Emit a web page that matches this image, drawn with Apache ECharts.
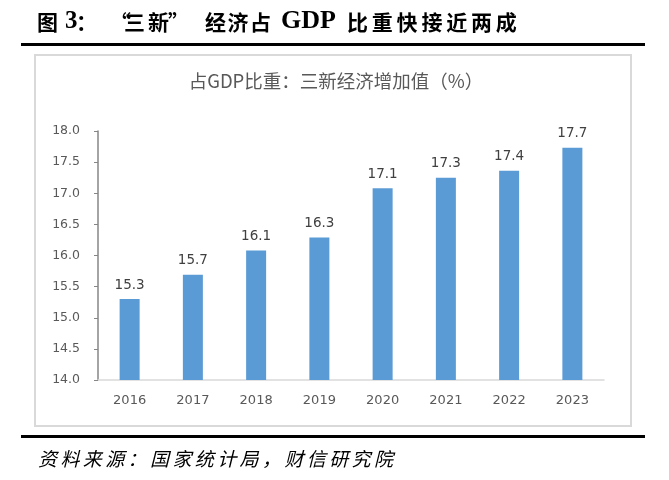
<!DOCTYPE html>
<html><head><meta charset="utf-8">
<script src="https://cdn.jsdelivr.net/npm/echarts@6/dist/echarts.min.js"></script>
<style>html,body{margin:0;padding:0;background:#fff}#c{width:669px;height:480px}</style>
</head><body><div id="c"></div>
<script>
const categories = ['2016','2017','2018','2019','2020','2021','2022','2023'];
const shareValues = [15.3, 15.69, 16.08, 16.29, 17.08, 17.25, 17.36, 17.73];
const yTicks = {min: 14, max: 18, interval: 0.5};
const headerText = '图 3：“三新”经济占 GDP 比重快接近两成';
const chartTitle = '占GDP比重：三新经济增加值（%）';
const sourceText = '资料来源：国家统计局，财信研究院';

const CJK = '"Noto Sans CJK SC", sans-serif';
const SERIF = '"Liberation Serif", serif';
const NUM = '"DejaVu Sans", sans-serif';

// header laid out in pieces (same text as headerText)
const headerPieces = [
  {t:'图', x:37, adv:22, font:CJK, size:21},
  {t:'3', x:65, adv:13, font:SERIF, size:25},
  {t:'：', x:76, adv:20, font:CJK, size:21},
  {t:'“', x:110, adv:14, font:CJK, size:21},
  {t:'三新', x:124, adv:24, font:CJK, size:21},
  {t:'”', x:168, adv:14, font:CJK, size:21},
  {t:'经济占', x:205, adv:22.5, font:CJK, size:21},
  {t:'GDP', x:281, adv:0, font:SERIF, size:26},
  {t:'比重快接近两成', x:347, adv:24.8, font:CJK, size:21}
];
function pieceTexts(pieces, top, weight, style, color) {
  const out = [];
  pieces.forEach(p => {
    if (!p.adv) {
      out.push({type:'text', left:p.x, top:top - (p.size-21)*0.75,
        style:{text:p.t, fontSize:p.size, fontWeight:weight, fontStyle:style, fill:color, fontFamily:p.font}});
    } else {
      Array.from(p.t).forEach((ch, i) => {
        out.push({type:'text', left:p.x + i*p.adv, top:top - (p.size-21)*0.75,
          style:{text:ch, fontSize:p.size, fontWeight:weight, fontStyle:style, fill:color, fontFamily:p.font}});
      });
    }
  });
  return out;
}
const sourcePieces = [{t:sourceText, x:38, adv:22.4, font:CJK, size:19}];

const chart = echarts.init(document.getElementById('c'), null, {renderer:'canvas'});
chart.setOption({
  backgroundColor:'#fff',
  animation:false,
  title:{text:chartTitle,left:331,textAlign:'center',top:67,
    textStyle:{fontSize:18.5,fontWeight:'normal',color:'#595959',fontFamily:CJK}},
  grid:{left:98,right:65,top:131,bottom:100},
  xAxis:{type:'category',data:categories,
    axisLine:{lineStyle:{color:'#D9D9D9',width:1.5}},
    axisTick:{show:false},
    axisLabel:{color:'#595959',fontSize:13,margin:14,fontFamily:NUM}},
  yAxis:{type:'value',min:yTicks.min,max:yTicks.max,interval:yTicks.interval,
    axisLine:{show:true,lineStyle:{color:'#868686',width:1.5}},
    axisTick:{show:true,inside:false,length:4,lineStyle:{color:'#868686'}},
    splitLine:{show:false},
    axisLabel:{color:'#595959',fontSize:12.5,margin:18,formatter:v=>v.toFixed(1),fontFamily:NUM}},
  series:[{type:'bar',data:shareValues,barWidth:20,
    itemStyle:{color:'#5B9BD5'},
    label:{show:true,position:'top',distance:7,color:'#404040',fontSize:13.5,
      fontFamily:NUM,formatter:p=>p.value.toFixed(1)}}],
  graphic:[].concat(
    pieceTexts(headerPieces, 12, 'bold', 'normal', '#000'),
    [
      {type:'rect',shape:{x:21,y:43,width:624,height:3},style:{fill:'#000'}},
      {type:'rect',shape:{x:35,y:55,width:596,height:371},style:{fill:'none',stroke:'#D9D9D9',lineWidth:2}},
      {type:'rect',shape:{x:21,y:435,width:624,height:3},style:{fill:'#000'}}
    ],
    pieceTexts(sourcePieces, 448, 'normal', 'italic', '#000')
  )
});
</script></body></html>
